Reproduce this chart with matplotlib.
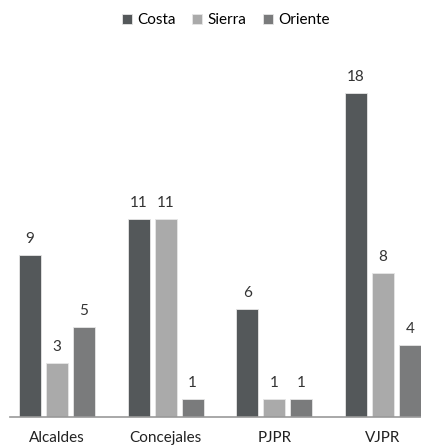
import numpy as np
import matplotlib.pyplot as plt

# —— data ——
categories = ["Alcaldes", "Concejales", "PJPR", "VJPR"]
series = ["Costa", "Sierra", "Oriente"]
costa = [9, 11, 6, 18]
sierra = [3, 11, 1, 8]
oriente = [5, 1, 1, 4]
colors = ["#54585a", "#aaaaaa", "#7a7b7c"]

plt.rcParams['font.family'] = ['Lato', 'DejaVu Sans']

fig = plt.figure(figsize=(4.21, 4.48), dpi=100)
ax = fig.add_axes([10/421, 31/448, 411/421, 360/448])

x = np.arange(len(categories))
width = 0.2024
step = 0.248
for i, (name, vals) in enumerate(zip(series, [costa, sierra, oriente])):
    pos = x + (i - 1) * step
    bars = ax.bar(pos, vals, width, color=colors[i], label=name,
                  edgecolor="#e6e6e6", linewidth=0.6)
    for b, v in zip(bars, vals):
        ax.text(b.get_x() + b.get_width()/2, v + 0.5, str(v),
                ha='center', va='bottom', fontsize=11, color="#333333")

ax.set_xlim(-0.432, 3.35)
ax.set_ylim(0, 20)
ax.set_yticks([])
ax.set_xticks(x)
ax.set_xticklabels(categories, fontsize=11, color="#222222")
ax.tick_params(axis='x', length=0, pad=10)
for s in ['top', 'right', 'left']:
    ax.spines[s].set_visible(False)
ax.spines['bottom'].set_color("#999999")
ax.spines['bottom'].set_linewidth(1.2)

fig.legend(loc='center', bbox_to_anchor=(226/421, 1 - 20/448), ncol=3,
           frameon=False, fontsize=11, handlelength=0.65, handleheight=0.65,
           handletextpad=0.35, columnspacing=1.1)

fig.savefig("out.png", dpi=100)
